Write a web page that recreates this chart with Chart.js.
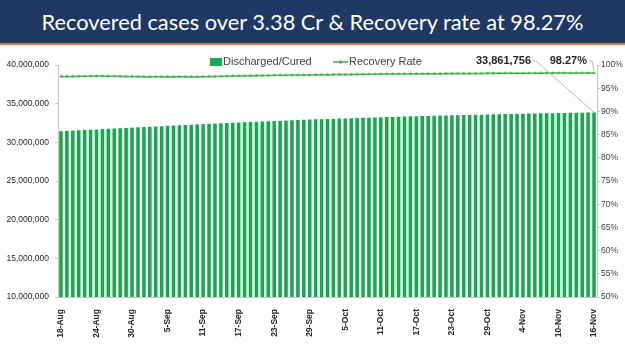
<!DOCTYPE html>
<html>
<head>
<meta charset="utf-8">
<script src="https://cdn.jsdelivr.net/npm/chart.js@4.4.1/dist/chart.umd.min.js"></script>
<style>
  html, body { margin: 0; padding: 0; background: #fff; }
  body { width: 625px; height: 351px; overflow: hidden; position: relative; }
  #banner {
    height: 43px; background: #1f3864; border-bottom: 2px solid #e07a45;
    color: #fff; font-family: Lato, "Open Sans", sans-serif; font-size: 21.8px;
    text-align: center; line-height: 43px;
  }
  #wrap { position: absolute; left: 0; top: 47px; width: 625px; height: 304px; }
</style>
</head>
<body>
<div id="banner">Recovered cases over 3.38 Cr &amp; Recovery rate at 98.27%</div>
<div id="wrap"><canvas id="chart"></canvas></div>
<script>
const months = [['Aug', 18, 31], ['Sep', 1, 30], ['Oct', 1, 31], ['Nov', 1, 16]];
const dates = [];
months.forEach(([m, from, to]) => {
  for (let d = from; d <= to; d++) dates.push(d + '-' + m);
});

const discharged = [
  31444000, 31482000, 31519000, 31557000, 31596000, 31635000, 31673000, 31710000, 31747000, 31785000,
  31824000, 31863000, 31902000, 31940000, 31977000, 32014000, 32052000, 32091000, 32130000, 32168000,
  32206000, 32243000, 32280000, 32318000, 32356000,
  32390000, 32424000, 32457000, 32489000, 32521000, 32554000, 32588000, 32622000, 32655000, 32687000,
  32719000, 32751000, 32784000, 32817000, 32850000, 32883000, 32916000, 32950000,
  32975000, 32999000, 33023000, 33048000, 33072000, 33096000, 33119000, 33143000, 33167000, 33192000,
  33216000, 33240000, 33264000, 33287000, 33310000, 33334000, 33358000, 33382000,
  33400000, 33419000, 33437000, 33455000, 33473000, 33491000, 33509000, 33527000, 33545000, 33563000,
  33580000, 33598000, 33616000, 33634000, 33652000, 33670000, 33688000, 33706000,
  33719000, 33732000, 33745000, 33758000, 33771000, 33784000, 33797000, 33810000, 33823000, 33836000,
  33849000, 33861756
];

const recoveryRate = [
  97.51, 97.52, 97.54, 97.56, 97.58, 97.60, 97.63, 97.63, 97.60, 97.57, 97.55, 97.54, 97.53, 97.51,
  97.49, 97.48, 97.48, 97.48, 97.48, 97.49, 97.48, 97.48, 97.48, 97.49, 97.49, 97.51, 97.53, 97.56,
  97.58, 97.62, 97.65, 97.67, 97.70, 97.72, 97.74, 97.76, 97.78, 97.80, 97.81, 97.83, 97.84, 97.86,
  97.87, 97.88,
  97.90, 97.91, 97.93, 97.94, 97.95, 97.97, 97.99, 98.00, 98.01, 98.03, 98.04, 98.05, 98.06, 98.07,
  98.08, 98.09, 98.10, 98.11, 98.12, 98.13, 98.14, 98.15, 98.16, 98.16, 98.17, 98.18, 98.19, 98.19,
  98.20, 98.20, 98.21,
  98.21, 98.22, 98.22, 98.23, 98.23, 98.24, 98.24, 98.25, 98.25, 98.26, 98.26, 98.26, 98.27, 98.27,
  98.27, 98.27
];

const barColor = '#13a94d';
const lineColor = '#45b34f';
const axisColor = '#c8c8c8';

const annotate = {
  id: 'annotate',
  afterDraw(c) {
    const ctx = c.ctx;
    const last = dates.length - 1;
    const barEl = c.getDatasetMeta(0).data[last];
    const ptEl = c.getDatasetMeta(1).data[last];
    ctx.save();

    // legend
    ctx.font = '11px "Liberation Sans", Arial, sans-serif';
    ctx.textBaseline = 'middle';
    ctx.fillStyle = barColor;
    ctx.fillRect(210, 11, 12, 8);
    ctx.fillStyle = '#404040';
    ctx.fillText('Discharged/Cured', 223, 15);
    ctx.strokeStyle = lineColor;
    ctx.lineWidth = 1.5;
    ctx.beginPath(); ctx.moveTo(333, 15); ctx.lineTo(348, 15); ctx.stroke();
    ctx.fillStyle = lineColor;
    ctx.beginPath(); ctx.arc(340.5, 15, 1.8, 0, Math.PI * 2); ctx.fill();
    ctx.fillStyle = '#404040';
    ctx.fillText('Recovery Rate', 349, 15);

    // data labels
    ctx.font = 'bold 11px "Liberation Sans", Arial, sans-serif';
    ctx.fillStyle = '#262626';
    ctx.textAlign = 'right';
    ctx.fillText(discharged[last].toLocaleString('en-US'), 531, 14);
    ctx.fillText(recoveryRate[last].toFixed(2) + '%', 587, 14);

    ctx.strokeStyle = '#a6a6a6';
    ctx.lineWidth = 0.8;
    ctx.beginPath();
    ctx.moveTo(533, 14); ctx.lineTo(536, 14); ctx.lineTo(barEl.x, barEl.y);
    ctx.stroke();
    ctx.beginPath();
    ctx.moveTo(589, 14); ctx.lineTo(592, 14); ctx.lineTo(ptEl.x, ptEl.y - 2);
    ctx.stroke();
    ctx.restore();
  }
};

new Chart(document.getElementById('chart'), {
  data: {
    labels: dates,
    datasets: [
      {
        type: 'bar', label: 'Discharged/Cured', data: discharged, yAxisID: 'y',
        backgroundColor: barColor, barPercentage: 0.6, categoryPercentage: 1, order: 2
      },
      {
        type: 'line', label: 'Recovery Rate', data: recoveryRate, yAxisID: 'y1',
        borderColor: lineColor, backgroundColor: lineColor, borderWidth: 1.5,
        pointStyle: 'triangle', pointRadius: 1.6, pointBorderWidth: 0.5, tension: 0, order: 1
      }
    ]
  },
  options: {
    responsive: true,
    maintainAspectRatio: false,
    animation: false,
    layout: { padding: { top: 18, left: 0, right: 0, bottom: 0 } },
    plugins: { legend: { display: false }, tooltip: { enabled: false } },
    scales: {
      x: {
        offset: true,
        grid: { display: false },
        border: { color: axisColor },
        afterFit: s => { s.height = 54; },
        ticks: {
          autoSkip: false, maxRotation: 90, minRotation: 90, padding: 4,
          color: '#262626', font: { family: '"Liberation Sans", Arial', size: 8.5, weight: 'bold' },
          callback: (v, i) => (i % 6 === 0 ? dates[i] : '')
        }
      },
      y: {
        position: 'left', min: 10000000, max: 40000000,
        afterFit: s => { s.width = 58; },
        grid: { drawOnChartArea: false, tickLength: 3, color: axisColor },
        border: { color: axisColor },
        ticks: {
          stepSize: 5000000, padding: 6, color: '#262626',
          font: { family: '"Liberation Sans", Arial', size: 8.5 },
          callback: v => v.toLocaleString('en-US')
        }
      },
      y1: {
        position: 'right', min: 50, max: 100,
        afterFit: s => { s.width = 28; },
        grid: { drawOnChartArea: false, tickLength: 3, color: axisColor },
        border: { color: axisColor },
        ticks: {
          stepSize: 5, padding: 1, color: '#404040',
          font: { family: '"Liberation Sans", Arial', size: 8.5 },
          callback: v => v + '%'
        }
      }
    }
  },
  plugins: [annotate]
});
</script>
</body>
</html>
